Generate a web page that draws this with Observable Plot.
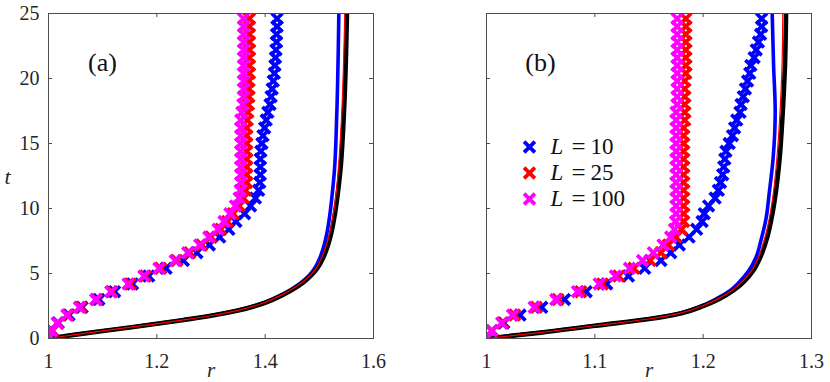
<!DOCTYPE html>
<html>
<head>
<meta charset="utf-8">
<script src="https://cdn.jsdelivr.net/npm/d3@7"></script>
<script src="https://cdn.jsdelivr.net/npm/@observablehq/plot@0.6"></script>
<style>
  html, body { margin: 0; padding: 0; background: #fff; }
  #wrap { position: relative; width: 830px; height: 382px; }
  #wrap > svg { position: absolute; top: 0; }
</style>
</head>
<body>
<div id="wrap"></div>
<script>
// ---------- data ----------
const tGrid = [0, 0.6, 1.2, 1.8, 2.4, 3.0, 3.6, 4.2, 4.8, 5.4, 6.0, 6.6, 7.2, 7.8, 8.4, 9.0, 9.6, 10.2, 10.8, 11.4,
  12.0, 12.6, 13.2, 13.8, 14.4, 15.0, 15.6, 16.2, 16.8, 17.4, 18.0, 18.6, 19.2, 19.8, 20.4, 21.0, 21.6, 22.2, 22.8, 23.4, 24.0, 24.6];

// panel (a) markers
const aMarkBlue = [1.000, 1.007, 1.018, 1.038, 1.062, 1.093, 1.122, 1.155, 1.185, 1.217, 1.249, 1.274, 1.297, 1.316, 1.333, 1.346, 1.362, 1.373, 1.382, 1.388,
  1.390, 1.391, 1.391, 1.391, 1.392, 1.394, 1.396, 1.399, 1.402, 1.405, 1.409, 1.411, 1.413, 1.415, 1.417, 1.418, 1.419, 1.420, 1.421, 1.421, 1.422, 1.422];
const aMarkRed = [1.000, 1.007, 1.017, 1.036, 1.060, 1.089, 1.117, 1.151, 1.179, 1.207, 1.237, 1.261, 1.283, 1.300, 1.318, 1.330, 1.341, 1.352, 1.360, 1.364,
  1.366, 1.366, 1.366, 1.366, 1.366, 1.366, 1.366, 1.366, 1.367, 1.368, 1.369, 1.370, 1.370, 1.370, 1.371, 1.371, 1.371, 1.371, 1.371, 1.371, 1.371, 1.371];
const aMarkMag = [1.000, 1.006, 1.016, 1.034, 1.057, 1.087, 1.115, 1.147, 1.176, 1.204, 1.234, 1.257, 1.279, 1.296, 1.313, 1.324, 1.335, 1.345, 1.352, 1.354,
  1.355, 1.355, 1.355, 1.355, 1.355, 1.355, 1.355, 1.355, 1.355, 1.357, 1.359, 1.360, 1.360, 1.360, 1.360, 1.360, 1.360, 1.360, 1.360, 1.360, 1.360, 1.360];

// panel (a) lines (t, r pairs)
const aLineT = [0, 0.3, 0.58, 0.85, 1.13, 1.43, 1.75, 2.15, 2.75, 3.3, 3.75, 4.3, 4.85, 5.45, 6.2, 7.05, 8.1, 9.4, 10.8, 13.0, 17, 25];
const aLineBlack = [1.0, 1.05, 1.1, 1.15, 1.2, 1.25, 1.3, 1.35, 1.4, 1.43, 1.45, 1.47, 1.485, 1.497, 1.507, 1.515, 1.522, 1.528, 1.533, 1.539, 1.545, 1.551];
const aLineBlue = [1.0, 1.048, 1.098, 1.148, 1.198, 1.248, 1.298, 1.347, 1.397, 1.427, 1.447, 1.466, 1.481, 1.492, 1.501, 1.508, 1.514, 1.519, 1.523, 1.528, 1.532, 1.536];
const aLineRed = [1.0, 1.049, 1.099, 1.149, 1.199, 1.249, 1.299, 1.348, 1.398, 1.428, 1.448, 1.468, 1.483, 1.495, 1.504, 1.512, 1.519, 1.525, 1.530, 1.535, 1.541, 1.547];

// panel (b) markers
const bMarkBlue = [1.000, 1.005, 1.016, 1.031, 1.051, 1.072, 1.092, 1.111, 1.131, 1.146, 1.161, 1.170, 1.178, 1.187, 1.194, 1.199, 1.201, 1.205, 1.211, 1.214,
  1.216, 1.218, 1.219, 1.220, 1.221, 1.224, 1.227, 1.229, 1.231, 1.234, 1.235, 1.237, 1.239, 1.241, 1.243, 1.244, 1.247, 1.249, 1.251, 1.253, 1.254, 1.254];
const bMarkRed = [1.000, 1.005, 1.015, 1.026, 1.046, 1.066, 1.087, 1.107, 1.122, 1.136, 1.151, 1.161, 1.168, 1.175, 1.180, 1.182, 1.182, 1.182, 1.182, 1.182,
  1.182, 1.182, 1.182, 1.182, 1.182, 1.182, 1.182, 1.182, 1.183, 1.183, 1.183, 1.183, 1.183, 1.183, 1.184, 1.184, 1.184, 1.184, 1.184, 1.184, 1.184, 1.184];
const bMarkMag = [1.000, 1.0046, 1.014, 1.024, 1.044, 1.064, 1.084, 1.104, 1.119, 1.132, 1.144, 1.154, 1.163, 1.170, 1.1735, 1.1745, 1.175, 1.175, 1.175, 1.175,
  1.175, 1.175, 1.175, 1.175, 1.175, 1.175, 1.175, 1.175, 1.175, 1.175, 1.176, 1.176, 1.176, 1.176, 1.176, 1.176, 1.176, 1.176, 1.176, 1.176, 1.176, 1.176];

// panel (b) lines (t, r pairs)
const bLineT = [0, 0.45, 0.98, 1.5, 1.95, 2.5, 3.05, 3.7, 4.4, 5.2, 6.3, 7.6, 9.2, 11.2, 13.8, 17.5, 21, 25];
const bLineBlack = [1.0, 1.05, 1.1, 1.15, 1.18, 1.2, 1.215, 1.228, 1.238, 1.246, 1.253, 1.2585, 1.263, 1.267, 1.2705, 1.2735, 1.2755, 1.2765];
const bLineBlue = [1.0, 1.049, 1.099, 1.149, 1.178, 1.198, 1.212, 1.225, 1.234, 1.242, 1.249, 1.2535, 1.258, 1.261, 1.2645, 1.2665, 1.265, 1.2637];
const bLineRed = [1.0, 1.0495, 1.0995, 1.1495, 1.179, 1.199, 1.2135, 1.2265, 1.2365, 1.2445, 1.2513, 1.2565, 1.261, 1.2648, 1.268, 1.271, 1.2728, 1.2735];

// ticks / labels
const yTicks = [0, 5, 10, 15, 20, 25];
const yLabels = ["0", "5", "10", "15", "20", "25"];
const aXTicks = [1, 1.2, 1.4, 1.6];
const aXLabels = ["1", "1.2", "1.4", "1.6"];
const bXTicks = [1, 1.1, 1.2, 1.3];
const bXLabels = ["1", "1.1", "1.2", "1.3"];
const legendNames = ["10", "25", "100"];
const seriesColors = ["#0000ff", "#ff0000", "#ff00ff"];

// ---------- drawing ----------
const FONT = "Liberation Serif";
const AX = "#4d4d4d";
const TXT = "#262626";
const H = 382, MT = 13, MB = 44;
const innerH = H - MT - MB;
const MR = 5, MSW = 3.7;

function pts(ts, rs) { return ts.map((t, i) => ({t, r: rs[i]})); }

function panel({width, ml, mr, xDomain, xTicks, xLabels, yLabelsShown, lines, marks, tag, legend}) {
  const innerW = width - ml - mr;
  const m = [];
  lines.forEach(([ts, rs, color, sw]) => {
    m.push(Plot.line(pts(ts, rs), {x: "r", y: "t", stroke: color, strokeWidth: sw, curve: "monotone-y", clip: true}));
  });
  marks.forEach(([rs, color]) => {
    m.push(Plot.dot(pts(tGrid, rs), {x: "r", y: "t", symbol: "times", stroke: color, strokeWidth: MSW, r: MR, clip: true}));
  });
  m.push(Plot.frame({stroke: AX, strokeWidth: 1}));
  m.push(Plot.tickX(xTicks, {x: d => d, insetTop: innerH - 4, stroke: AX}));
  m.push(Plot.tickX(xTicks, {x: d => d, insetBottom: innerH - 4, stroke: AX}));
  m.push(Plot.tickY(yTicks, {y: d => d, insetRight: innerW - 4, stroke: AX}));
  m.push(Plot.tickY(yTicks, {y: d => d, insetLeft: innerW - 4, stroke: AX}));
  m.push(Plot.axisX({ticks: xTicks, tickSize: 0, tickPadding: 15, fontSize: 20, color: TXT, fontFamily: FONT,
    tickFormat: d => xLabels[xTicks.indexOf(d)], label: null}));
  if (yLabelsShown) {
    m.push(Plot.axisY({ticks: yTicks, tickSize: 0, tickPadding: 9, fontSize: 20, color: TXT, fontFamily: FONT,
      tickFormat: d => yLabels[yTicks.indexOf(d)], label: null}));
    m.push(Plot.text(["t"], {frameAnchor: "left", dx: 7 - ml, dy: 1, text: d => d, fontSize: 22, fontFamily: FONT,
      fontStyle: "italic", fill: TXT, textAnchor: "middle", lineAnchor: "middle"}));
  } else {
    m.push(Plot.axisY({ticks: [], tickSize: 0, label: null}));
  }
  m.push(Plot.text(["r"], {frameAnchor: "bottom", dy: 32, text: d => d, fontSize: 21, fontFamily: FONT,
    fontStyle: "italic", fill: TXT, textAnchor: "middle", lineAnchor: "middle"}));
  m.push(Plot.text([tag], {frameAnchor: "top-left", dx: 54, dy: 49, text: d => d, fontSize: 26, fontFamily: FONT,
    fill: "#111", textAnchor: "middle", lineAnchor: "middle"}));
  if (legend) {
    legendNames.forEach((name, i) => {
      const dy = 133.5 + 26 * i;
      m.push(Plot.dot([0], {frameAnchor: "top-left", dx: 43, dy, symbol: "times", stroke: seriesColors[i], strokeWidth: MSW, r: MR}));
      m.push(Plot.text(["L"], {frameAnchor: "top-left", dx: 64, dy, text: d => d, fontSize: 23, fontStyle: "italic", fontFamily: FONT,
        fill: "#111", textAnchor: "start", lineAnchor: "middle"}));
      m.push(Plot.text(["="], {frameAnchor: "top-left", dx: 85, dy, text: d => d, fontSize: 25, fontFamily: FONT,
        fill: "#111", textAnchor: "start", lineAnchor: "middle"}));
      m.push(Plot.text([name], {frameAnchor: "top-left", dx: 104, dy, text: d => d, fontSize: 23, fontFamily: FONT,
        fill: "#111", textAnchor: "start", lineAnchor: "middle"}));
    });
  }
  return Plot.plot({
    width, height: H, marginLeft: ml, marginRight: mr, marginTop: MT, marginBottom: MB,
    style: {fontFamily: FONT, fontSize: "20px", background: "transparent", overflow: "visible"},
    x: {domain: xDomain, label: null},
    y: {domain: [0, 25], label: null},
    marks: m
  });
}

const pa = panel({
  width: 420, ml: 48, mr: 47, xDomain: [1, 1.6], xTicks: aXTicks, xLabels: aXLabels, yLabelsShown: true,
  lines: [[aLineT, aLineBlue, "#0000ff", 3.6], [aLineT, aLineBlack, "#000", 4.6], [aLineT, aLineRed, "#ff0000", 1.2]],
  marks: [[aMarkBlue, "#0000ff"], [aMarkRed, "#ff0000"], [aMarkMag, "#ff00ff"]],
  tag: "(a)", legend: false
});
const pb = panel({
  width: 410, ml: 66, mr: 19, xDomain: [1, 1.3], xTicks: bXTicks, xLabels: bXLabels, yLabelsShown: false,
  lines: [[bLineT, bLineBlue, "#0000ff", 3.6], [bLineT, bLineBlack, "#000", 4.6], [bLineT, bLineRed, "#ff0000", 1.2]],
  marks: [[bMarkBlue, "#0000ff"], [bMarkRed, "#ff0000"], [bMarkMag, "#ff00ff"]],
  tag: "(b)", legend: true
});
pa.style.left = "0px";
pb.style.left = "420px";
const wrap = document.getElementById("wrap");
wrap.appendChild(pa);
wrap.appendChild(pb);
</script>
</body>
</html>
